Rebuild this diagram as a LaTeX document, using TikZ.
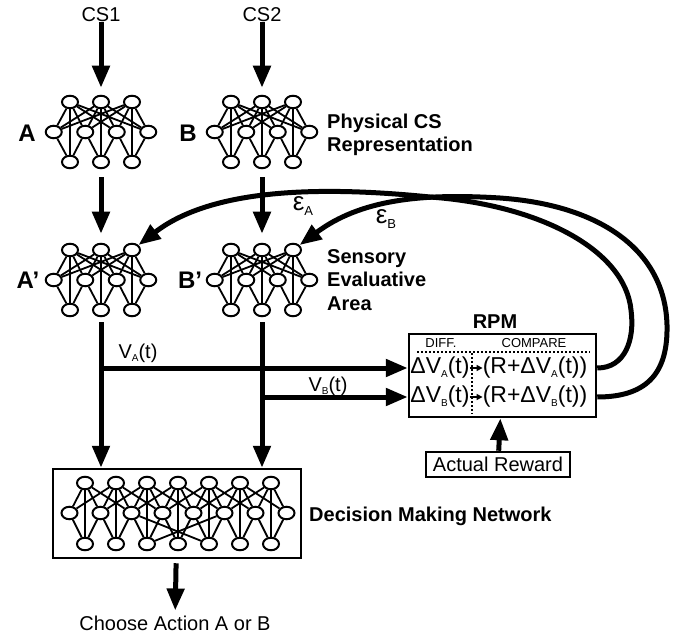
\documentclass[tikz,border=0pt]{standalone}
\usepackage{fontspec}
\setmainfont{Liberation Sans}
\usepackage{tikz}
\usetikzlibrary{positioning,arrows.meta,shapes.geometric}

% three-layer net: #1 name, #2 x, #3 y of middle row
\newcommand\smallnet[3]{%
  \foreach \i in {1,2,3} {
    \node[unit] (#1t\i) at ({#2+31*(\i-2)},{#3-30}) {};
    \node[unit] (#1b\i) at ({#2+31*(\i-2)},{#3+30}) {};
  }
  \foreach \j in {1,...,4}
    \node[unit] (#1m\j) at ({#2+31.5*(\j-2.5)},#3) {};
  \foreach \i in {1,2,3} {
    \foreach \j in {1,...,4}
      \draw[link] (#1t\i) -- (#1m\j);
    \draw[link] (#1t\i) -- (#1b\i);
  }
  \foreach \j/\k in {1/1,2/1,2/2,3/2,3/3,4/3}
    \draw[link] (#1m\j) -- (#1b\k);
}
% small lowered index
\newcommand\idx[2][10]{\raisebox{-0.3ex}{\fontsize{#1}{#1}\selectfont #2}}

\begin{document}
\begin{tikzpicture}[x=1pt,y=-1pt,
    unit/.style={ellipse,draw,line width=2pt,fill=white,minimum width=16pt,minimum height=12.5pt,inner sep=0pt},
    link/.style={line width=1.8pt},
    arrow/.style={line width=5pt,-{Triangle[length=22pt,width=17pt]}},
    tiny/.style={line width=1.5pt,-{Triangle[length=6pt,width=6pt]}},
    box/.style={draw,line width=2.5pt,inner sep=0pt},
    lbl/.style={inner sep=0pt,font=\fontsize{20}{23}\selectfont},
    row/.style={inner sep=0pt,font=\fontsize{23}{26}\selectfont},
    head/.style={inner sep=0pt,font=\fontsize{13}{15}\selectfont},
    tag/.style={inner sep=0pt,align=left,font=\bfseries\fontsize{20}{23.5}\selectfont},
    big/.style={inner sep=0pt,font=\bfseries\fontsize{24}{28}\selectfont}
    ]
    \useasboundingbox (0,0) rectangle (677,636);

    % sensory nets
    \smallnet{A}{101}{132}
    \smallnet{B}{262}{132}
    \smallnet{Ap}{101}{280}
    \smallnet{Bp}{262}{280}

    \node[big] (la) at (27,133) {A};
    \node[big] (lb) at (188,133) {B};
    \node[big] (lap) at (28,280) {A’};
    \node[big] (lbp) at (190,280) {B’};
    \node[tag,anchor=west] (phys) at (327,135) {Physical CS\\Representation};
    \node[tag,anchor=west] (sens) at (327,280) {Sensory\\Evaluative\\Area};

    \node[lbl] (cs1) at (101,15) {CS1};
    \node[lbl] (cs2) at (262,15) {CS2};

    % decision making network
    \node[box,minimum width=248pt,minimum height=89pt] (dbox) at (177,513.5) {};
    \foreach \i in {1,...,7} {
      \node[unit] (Dt\i) at ({178+31*(\i-4)},483) {};
      \node[unit] (Db\i) at ({178+31*(\i-4)},544) {};
    }
    \foreach \j in {1,...,8}
      \node[unit] (Dm\j) at ({178+31*(\j-4.5)},513) {};
    \foreach \i in {1,...,7} {
      \foreach \d in {-1,0,1,2} {
        \pgfmathtruncatemacro\j{\i+\d}
        \ifnum\j>0 \ifnum\j<9 \draw[link] (Dt\i) -- (Dm\j); \fi\fi
      }
      \draw[link] (Dt\i) -- (Db\i);
    }
    \foreach \j/\k in {1/1,2/1,2/2,3/2,3/3,4/3,4/4,5/4,5/5,6/5,6/6,7/6,7/7,8/7,3/5,6/3}
      \draw[link] (Dm\j) -- (Db\k);
    \node[tag,anchor=west] (dmn) at (309,516) {Decision Making Network};
    \node[lbl] (choose) at (175,623) {Choose Action A or B};

    % RPM
    \node[box,minimum width=187pt,minimum height=83pt] (rpm) at (502.5,375.5) {};
    \node[big,font=\bfseries\fontsize{20}{23}\selectfont] (rpmlbl) at (495,322) {RPM};
    \node[head] (diff) at (441,343) {DIFF.};
    \node[head] (comp) at (534,343) {COMPARE};
    \node[row] (dva) at (440,368) {ΔV\idx{A}(t)};
    \node[row] (dvb) at (440,397) {ΔV\idx{B}(t)};
    \node[row] (cva) at (535,368) {(R+ΔV\idx{A}(t))};
    \node[row] (cvb) at (535,397) {(R+ΔV\idx{B}(t))};
    \draw[line width=2pt,dotted] (417,352) -- (590,352);
    \draw[line width=2pt,dotted] (472,353) -- (472,414);
    \draw[tiny] (dva) -- (cva);
    \draw[tiny] (dvb) -- (cvb);
    \node[box,minimum width=144pt,minimum height=25pt,font=\fontsize{20}{23}\selectfont] (rew) at (498,464.5) {Actual Reward};
    \draw[arrow] (rew) -- (rpm);

    % feed-forward arrows
    \draw[arrow,shorten >=7pt] (cs1) -- (At2);
    \draw[arrow,shorten >=7pt] (cs2) -- (Bt2);
    \draw[arrow,shorten <=8pt,shorten >=9pt] (Ab2) -- (Apt2);
    \draw[arrow,shorten <=8pt,shorten >=9pt] (Bb2) -- (Bpt2);
    \draw[arrow,shorten <=5pt] (Apb2) -- (Apb2 |- dbox.north);
    \draw[arrow,shorten <=5pt] (Bpb2) -- (Bpb2 |- dbox.north);
    \draw[arrow] (Apb2 |- dva) -- (rpm.west |- dva);
    \draw[arrow] (Bpb2 |- dvb) -- (rpm.west |- dvb);
    \node[lbl] (va) at (138,353) {V\idx{A}(t)};
    \node[lbl] (vb) at (328,386) {V\idx{B}(t)};
    \draw[arrow,shorten <=4pt,shorten >=5pt] (dbox) -- (choose);

    % error signals back to the evaluative area
    \draw[arrow] (rpm.east |- dva) .. controls (625,368) and (635,340) .. (631,310)
      .. controls (625,250) and (540,205) .. (430,197)
      .. controls (330,187) and (215,186) .. (Apt3);
    \draw[arrow] (rpm.east |- dvb) .. controls (650,397) and (668,370) .. (667,325)
      .. controls (665,250) and (600,205) .. (500,198)
      .. controls (420,193) and (360,200) .. (Bpt3);
    \node[lbl,font=\fontsize{26}{28}\selectfont] (ea) at (303,206) {ε\idx[13]{A}};
    \node[lbl,font=\fontsize{26}{28}\selectfont] (eb) at (386,219) {ε\idx[13]{B}};
\end{tikzpicture}
\end{document}
